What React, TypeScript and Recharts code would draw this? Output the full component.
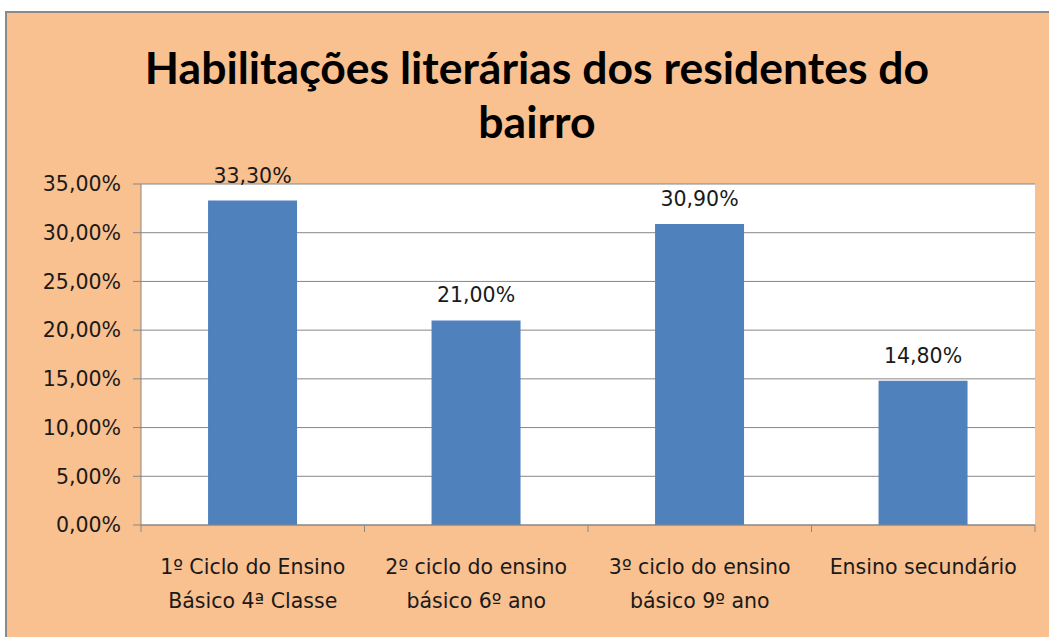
import React from 'react';
import { BarChart, Bar, XAxis, YAxis, CartesianGrid, LabelList } from 'recharts';

const titleLines = ['Habilitações literárias dos residentes do', 'bairro'];
const categories = [
  '1º Ciclo do Ensino Básico 4ª Classe',
  '2º ciclo do ensino básico 6º ano',
  '3º ciclo do ensino básico 9º ano',
  'Ensino secundário',
];
const categoryLines = [
  ['1º Ciclo do Ensino', 'Básico 4ª Classe'],
  ['2º ciclo do ensino', 'básico 6º ano'],
  ['3º ciclo do ensino', 'básico 9º ano'],
  ['Ensino secundário'],
];
const values = [33.3, 21.0, 30.9, 14.8];
const yTicks = [0, 5, 10, 15, 20, 25, 30, 35];

const data = categories.map((name, i) => ({ name, value: values[i] }));

const FONT = "'DejaVu Sans', sans-serif";
const GRID = '#878787';
const TEXT = '#1a1a1a';

const fmt = (v: number) => v.toFixed(2).replace('.', ',') + '%';

const XTick = (props: any) => {
  const { x, y, payload, index } = props;
  const off = payload && payload.offset ? payload.offset : 0;
  const idx = categories.indexOf(payload.value);
  const lines = categoryLines[idx] || [String(payload.value)];
  return (
    <g>
      <line x1={x - off} x2={x - off} y1={y} y2={y + 7} stroke={GRID} strokeWidth={1} />
      {index === categories.length - 1 && (
        <line x1={x + off} x2={x + off} y1={y} y2={y + 7} stroke={GRID} strokeWidth={1} />
      )}
      {lines.map((l, i) => (
        <text
          key={i}
          x={x}
          y={y + 49 + i * 34}
          textAnchor="middle"
          fontFamily={FONT}
          fontSize={20.5}
          fill={TEXT}
        >
          {l}
        </text>
      ))}
    </g>
  );
};

export default function App() {
  return (
    <div style={{ position: 'absolute', left: 0, top: 0, width: 1049, height: 637, overflow: 'hidden', background: '#fff' }}>
      <div
        style={{
          position: 'absolute',
          left: 5,
          top: 11,
          width: 1100,
          height: 700,
          border: '2px solid #8a8a8a',
          background: '#F9C090',
        }}
      />
      <div
        style={{
          position: 'absolute',
          left: 37,
          width: 1000,
          top: 40,
          textAlign: 'center',
          fontFamily: "Lato, sans-serif",
          fontWeight: 700,
          fontSize: 44.5,
          lineHeight: '54px',
          color: '#000',
        }}
      >
        {titleLines.map((t, i) => (
          <div key={i}>{t}</div>
        ))}
      </div>
      <div style={{ position: 'absolute', left: 0, top: 0 }}>
        <BarChart
          width={1049}
          height={637}
          data={data}
          margin={{ top: 184, right: 14, bottom: 12, left: 0 }}
          barCategoryGap="30%"
        >
          <CartesianGrid fill="#ffffff" vertical={false} stroke={GRID} strokeWidth={1} />
          <XAxis
            dataKey="name"
            height={100}
            interval={0}
            tickLine={false}
            tickSize={0}
            tickMargin={0}
            axisLine={{ stroke: GRID }}
            tick={<XTick />}
          />
          <YAxis
            width={141}
            domain={[0, 35]}
            ticks={yTicks}
            interval={0}
            tickFormatter={fmt}
            tickSize={8}
            tickMargin={12}
            axisLine={{ stroke: GRID }}
            tickLine={{ stroke: GRID }}
            tick={{ fontFamily: FONT, fontSize: 20.5, fill: TEXT }}
          />
          <Bar dataKey="value" fill="#4F81BD" isAnimationActive={false}>
            <LabelList
              dataKey="value"
              position="top"
              offset={18}
              formatter={(v: any) => fmt(Number(v))}
              style={{ fontFamily: FONT, fontSize: 20.5, fill: TEXT }}
            />
          </Bar>
        </BarChart>
      </div>
    </div>
  );
}
